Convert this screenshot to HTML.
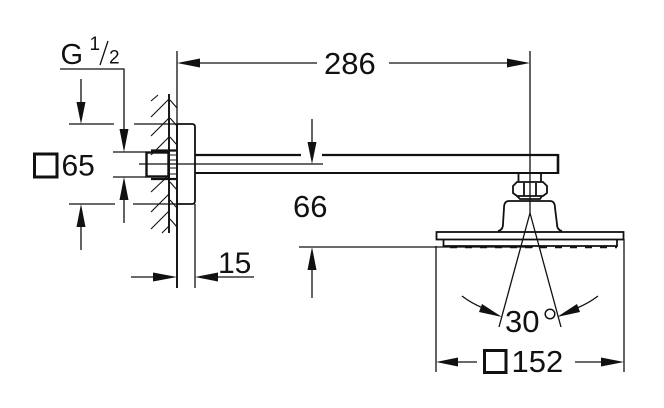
<!DOCTYPE html>
<html><head><meta charset="utf-8"><style>
html,body{margin:0;padding:0;background:#fff;width:664px;height:408px;overflow:hidden}
svg{display:block}
text{font-family:"Liberation Sans",sans-serif;fill:#111}
</style></head><body>
<svg width="664" height="408" viewBox="0 0 664 408" xmlns="http://www.w3.org/2000/svg">
<rect width="664" height="408" fill="#fff"/>
<g fill="none" stroke="#111" stroke-width="1.300">
<!-- extension lines -->
<path d="M177 51V288M195 204V288M530 51V213"/>
<path d="M60 69H124V130M69 124H114M134 124H177M69 204H115M133 204H177M113 152H146M113 177H146"/>
<path d="M81 79V105M81 225V250M124 200V223"/>
<path d="M200 63H317M389 63H507"/>
<path d="M131 277H153M218 277H254"/>
<path d="M312 119V145M139 164H323"/>
<path d="M299 247H533M312 270V298"/>
<path d="M436 246V372M624 239V372"/>
<path d="M458 362H477M575 362H601"/>
<path d="M530 213L499 327M530 213L561 327"/>
<path d="M462 296Q471 303 483 308M598 296Q589 303 577 308"/>
<!-- hatching -->
<g stroke-width="1.100">
<path d="M151 101L158 95M151 117L169 99M151 136L169 118M151 155L169 137M151 192L167 177M151 212L169 194M151 229L169 211M162 233L169 226"/>
<path d="M170 100L177 108M170 118L177 126M170 137L177 145M170 182L177 190M170 200L177 208M170 219L177 227"/>
</g>
</g>
<!-- wall -->
<path d="M169 94V233M177 124V288" fill="none" stroke="#111" stroke-width="1.900"/>
<!-- plate -->
<path d="M177 124H192Q195 124 195 127V201Q195 204 192 204H177" fill="none" stroke="#111" stroke-width="1.800"/>
<!-- fitting -->
<rect x="146.500" y="152.500" width="22" height="24" fill="none" stroke="#111" stroke-width="2.400"/>
<path d="M151 150.500H176M151 179H176" stroke="#111" stroke-width="2.200" fill="none"/>
<path d="M170 155H177M170 160H177M170 168H177M170 174H177" stroke="#111" stroke-width="1" fill="none"/>
<!-- arm -->
<path d="M195 155H301M322 155H558" fill="none" stroke="#111" stroke-width="2.200"/>
<path d="M195 173H558" fill="none" stroke="#111" stroke-width="2"/>
<path d="M558 154V174" fill="none" stroke="#111" stroke-width="2.600"/>
<!-- shower head -->
<g fill="none" stroke="#111" stroke-width="1.800">
<path d="M518.500 173V182M541 173V182"/>
<path d="M517 182H543L547 186V193L543 196H517L513 193V186Z"/>
<path d="M524 183V196M536 183V196M517 196L520 199H540L542 196"/>
<path d="M498 231Q503 230 503 224L504 208Q504 201 509 201H550Q555 201 555 208L557 224Q557 230 562 231"/>
<rect x="436.500" y="232" width="187" height="7.500"/>
<path d="M443.500 240V246H617V240"/>
</g>
<path d="M450 247.300H617" fill="none" stroke="#111" stroke-width="1.800" stroke-dasharray="7 8"/>
<!-- arrowheads -->
<g fill="#111" stroke="none">
<path d="M177 63L200 58.500V67.500Z"/>
<path d="M530 63L507 58.500V67.500Z"/>
<path d="M124 152L119.500 129H128.500Z"/>
<path d="M81 124L76.500 102H85.500Z"/>
<path d="M81 204L76.500 227H85.500Z"/>
<path d="M124 177L119.500 200H128.500Z"/>
<path d="M177 277L153 272.500V281.500Z"/>
<path d="M195 277L218 272.500V281.500Z"/>
<path d="M312 164L307.500 142H316.500Z"/>
<path d="M312 247L307.500 270H316.500Z"/>
<path d="M436 362L458 357.500V366.500Z"/>
<path d="M624 362L601 357.500V366.500Z"/>
<path d="M502 317L482 304L479 312Z"/>
<path d="M557 317L577 304L580 312Z"/>
</g>
<!-- squares -->
<rect x="34.500" y="154" width="22.500" height="23" fill="none" stroke="#111" stroke-width="3"/>
<rect x="484.500" y="350.500" width="21.500" height="22" fill="none" stroke="#111" stroke-width="3"/>
<circle cx="550" cy="314" r="4.800" fill="none" stroke="#111" stroke-width="1.500"/>
<!-- text -->
<text x="60.500" y="64" font-size="29">G</text>
<text x="89.500" y="50" font-size="19">1</text>
<path d="M100 65L108 41" stroke="#111" stroke-width="1.300" fill="none"/>
<text x="109" y="63.500" font-size="19">2</text>
<text x="324" y="74" font-size="31">286</text>
<text x="61.500" y="175.500" font-size="30">65</text>
<text x="293" y="217" font-size="31">66</text>
<text x="218" y="273" font-size="30">15</text>
<text x="505" y="332" font-size="31">30</text>
<text x="511.500" y="372" font-size="31">152</text>
</svg>
</body></html>
